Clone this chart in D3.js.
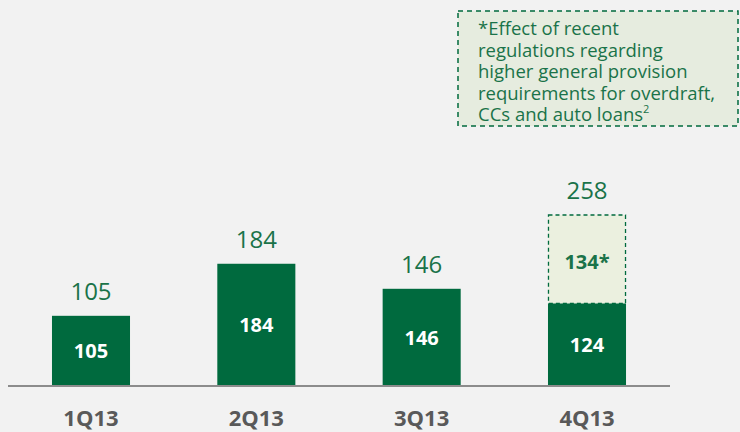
<!DOCTYPE html>
<html>
<head>
<meta charset="utf-8">
<script src="https://cdn.jsdelivr.net/npm/d3@7"></script>
<style>
  html, body { margin: 0; padding: 0; background: #f2f2f2; }
</style>
</head>
<body>
<script>
// quarters and values
const categories = ["1Q13", "2Q13", "3Q13", "4Q13"];
const baseValues = [105, 184, 146, 124];
const extraValues = [0, 0, 0, 134];   // regulatory effect, shown dashed
const totals = [105, 184, 146, 258];
const noteLines = [
  "*Effect of recent",
  "regulations regarding",
  "higher general provision",
  "requirements for overdraft,",
  "CCs and auto loans"
];

const width = 740, height = 432;
const green = "#006a3e";
const labelGreen = "#1a7349";

const svg = d3.select("body").append("svg")
  .attr("width", width)
  .attr("height", height)
  .style("font-family", "'Open Sans', sans-serif");

// x band scale: bars about 78px wide, 165px apart
const x = d3.scaleBand()
  .domain(categories)
  .range([8, 670])
  .paddingInner(0.528)
  .paddingOuter(0.266);

const y = d3.scaleLinear()
  .domain([0, 258])
  .range([385, 215]);

// base bars
svg.append("g")
  .selectAll("rect")
  .data(categories)
  .join("rect")
  .attr("x", d => x(d))
  .attr("width", x.bandwidth())
  .attr("y", (d, i) => y(baseValues[i]))
  .attr("height", (d, i) => y(0) - y(baseValues[i]))
  .attr("fill", green);

// dashed extra segment
svg.append("g")
  .selectAll("rect")
  .data(categories.filter((d, i) => extraValues[i] > 0))
  .join("rect")
  .attr("x", d => x(d) + 0.5)
  .attr("width", x.bandwidth() - 1)
  .attr("y", d => { const i = categories.indexOf(d); return y(baseValues[i] + extraValues[i]); })
  .attr("height", d => { const i = categories.indexOf(d); return y(baseValues[i]) - y(baseValues[i] + extraValues[i]); })
  .attr("fill", "#ebf0df")
  .attr("stroke", green)
  .attr("stroke-width", 1.3)
  .attr("stroke-dasharray", "4,3");

// white labels inside base bars
svg.append("g")
  .selectAll("text")
  .data(categories)
  .join("text")
  .attr("x", d => x(d) + x.bandwidth() / 2)
  .attr("y", (d, i) => (y(0) + y(baseValues[i])) / 2 + 8)
  .attr("text-anchor", "middle")
  .attr("fill", "#fff")
  .attr("font-weight", "bold")
  .attr("font-size", 20)
  .text((d, i) => baseValues[i]);

// labels inside dashed segment
svg.append("g")
  .selectAll("text")
  .data(categories.filter((d, i) => extraValues[i] > 0))
  .join("text")
  .attr("x", d => x(d) + x.bandwidth() / 2)
  .attr("y", d => { const i = categories.indexOf(d); return (y(baseValues[i]) + y(baseValues[i] + extraValues[i])) / 2 + 10; })
  .attr("text-anchor", "middle")
  .attr("fill", labelGreen)
  .attr("font-weight", "bold")
  .attr("font-size", 20)
  .text(d => extraValues[categories.indexOf(d)] + "*");

// totals above bars
svg.append("g")
  .selectAll("text")
  .data(categories)
  .join("text")
  .attr("x", d => x(d) + x.bandwidth() / 2)
  .attr("y", (d, i) => y(totals[i]) - 16)
  .attr("text-anchor", "middle")
  .attr("fill", labelGreen)
  .attr("font-size", 24)
  .text((d, i) => totals[i]);

// baseline
svg.append("line")
  .attr("x1", 8).attr("x2", 670)
  .attr("y1", 386).attr("y2", 386)
  .attr("stroke", "#8c8c8c")
  .attr("stroke-width", 2);

// category labels
svg.append("g")
  .selectAll("text")
  .data(categories)
  .join("text")
  .attr("x", d => x(d) + x.bandwidth() / 2)
  .attr("y", 426)
  .attr("text-anchor", "middle")
  .attr("fill", "#595959")
  .attr("font-weight", "bold")
  .attr("font-size", 22)
  .text(d => d);

// note box
const note = svg.append("g");
note.append("rect")
  .attr("x", 458).attr("y", 11)
  .attr("width", 280).attr("height", 115)
  .attr("fill", "#e6ecdf")
  .attr("stroke", green)
  .attr("stroke-width", 1.5)
  .attr("stroke-dasharray", "5,4");

const noteText = note.append("text")
  .attr("fill", labelGreen)
  .attr("font-size", 18.5);
noteLines.forEach((line, i) => {
  noteText.append("tspan")
    .attr("x", 478)
    .attr("y", 35 + i * 21.6)
    .text(line);
  if (i === noteLines.length - 1) {
    noteText.append("tspan").attr("font-size", 11).attr("dy", -8).text("2");
  }
});
</script>
</body>
</html>
